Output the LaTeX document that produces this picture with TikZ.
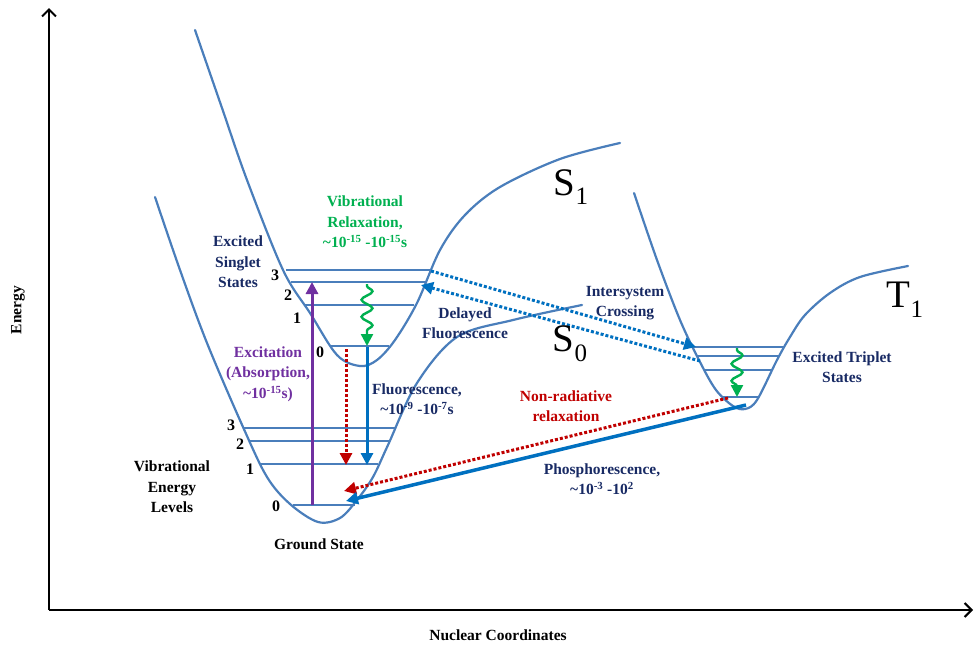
\documentclass[tikz,border=0pt]{standalone}
\usepackage{fontspec}
\setmainfont{Liberation Serif}
\usetikzlibrary{arrows.meta,decorations.pathmorphing}
\definecolor{curveblue}{RGB}{74,126,187}
\definecolor{navytext}{RGB}{24,42,100}
\definecolor{greenc}{RGB}{0,176,80}
\definecolor{purplec}{RGB}{112,48,160}
\definecolor{redc}{RGB}{192,0,0}
\definecolor{bluec}{RGB}{0,112,192}
\begin{document}
\begin{tikzpicture}[x=1pt,y=-1pt,
  curveline/.style={draw=curveblue, line width=2.2pt, line cap=round},
  levelline/.style={draw=curveblue, line width=1.4pt},
  lbl/.style={font=\fontsize{15.5}{20.5}\selectfont\bfseries, align=center, inner sep=0pt},
  numlbl/.style={font=\fontsize{16}{16}\selectfont\bfseries, inner sep=0pt},
  biglbl/.style={font=\fontsize{39}{39}\selectfont, inner sep=0pt},
  axisline/.style={draw=black, line width=2pt, -{Straight Barb[length=7pt,width=14pt,line width=2pt]}},
  tip/.style={-{Triangle[length=12pt,width=12pt]}},
  dotline/.style={line width=3pt, dash pattern=on 3pt off 2pt},
  wavy/.style={draw=greenc, line width=2.4pt, decorate,
    decoration={snake, amplitude=5.5pt, segment length=17pt, post length=9pt, pre length=2pt}}
]
\useasboundingbox (0,0) rectangle (974,648);

% axes
\coordinate (origin) at (49,610);
\coordinate (ytop) at (49,8);
\coordinate (xend) at (973,610);
\draw[axisline] (origin) -- (ytop);
\draw[axisline] (origin) -- (xend);
\node[lbl, rotate=90] (energy) at (18,310) {Energy};
\node[lbl] (nuc) at (498,635) {Nuclear Coordinates};

% potential curves
\draw[curveline] plot[smooth, tension=0.55] coordinates {
  (155,197) (180,270) (207,343) (243,427) (267,477) (290,504) (318,522)
  (340,518) (357,500) (373,477) (388,445) (417,383) (457,337) (513,320) (582,305)};
\draw[curveline] plot[smooth, tension=0.55] coordinates {
  (195,30) (222,108) (247,180) (283,270) (310,313) (337,355) (360,366)
  (377,360) (395,340) (417,303) (440,250) (465,215) (500,187) (560,159) (620,143)};
\draw[curveline] plot[smooth, tension=0.55] coordinates {
  (634,193) (657,260) (680,320) (700,362) (716,390) (733,406) (745,409)
  (757,400) (777,360) (790,337) (805,315) (830,293) (860,277) (908,266)};

% S1 vibrational levels
\coordinate (s1a3) at (286,270); \coordinate (s1b3) at (431,270);
\coordinate (s1a2) at (291,282); \coordinate (s1b2) at (426,282);
\coordinate (s1a1) at (304,305); \coordinate (s1b1) at (414,305);
\coordinate (s1a0) at (330,346); \coordinate (s1b0) at (389,346);
\foreach \i in {0,1,2,3} \draw[levelline] (s1a\i) -- (s1b\i);
% S0 vibrational levels
\coordinate (s0a3) at (244,428); \coordinate (s0b3) at (395,428);
\coordinate (s0a2) at (250,441); \coordinate (s0b2) at (389,441);
\coordinate (s0a1) at (261,464); \coordinate (s0b1) at (378,464);
\coordinate (s0a0) at (293,505); \coordinate (s0b0) at (355,505);
\foreach \i in {0,1,2,3} \draw[levelline] (s0a\i) -- (s0b\i);
% T1 vibrational levels
\coordinate (t1a3) at (694,347); \coordinate (t1b3) at (784,347);
\coordinate (t1a2) at (698,356); \coordinate (t1b2) at (780,356);
\coordinate (t1a1) at (705,370); \coordinate (t1b1) at (772,370);
\coordinate (t1a0) at (723,397); \coordinate (t1b0) at (758,397);
\foreach \i in {0,1,2,3} \draw[levelline] (t1a\i) -- (t1b\i);

% level numbers
\node[numlbl] (n13) at (275,275) {3};
\node[numlbl] (n12) at (288,295) {2};
\node[numlbl] (n11) at (297,318) {1};
\node[numlbl] (n10) at (320,352) {0};
\node[numlbl] (n03) at (231,425) {3};
\node[numlbl] (n02) at (240,444) {2};
\node[numlbl] (n01) at (250,469) {1};
\node[numlbl] (n00) at (276,506) {0};

% arrow end points
\coordinate (excA) at (312,505);
\coordinate (excB) at (312,282);
\coordinate (vrA) at (367,284);
\coordinate (vrB) at (367,346);
\coordinate (flA) at (367,347);
\coordinate (flB) at (367,465);
\coordinate (nrA) at (346,349);
\coordinate (nrB) at (346,465);
\coordinate (iscA) at (431,271);
\coordinate (iscB) at (696,347);
\coordinate (dfA) at (700,361);
\coordinate (dfB) at (421,285);
\coordinate (tnrA) at (728,398);
\coordinate (tnrB) at (344,491);
\coordinate (phA) at (746,405);
\coordinate (phB) at (346,501);
\coordinate (tvrA) at (737,348);
\coordinate (tvrB) at (737,397);

% transitions
\draw[purplec, line width=3pt, tip] (excA) -- (excB);
\draw[wavy, tip] (vrA) -- (vrB);
\draw[bluec, line width=3pt, tip] (flA) -- (flB);
\draw[redc, dotline, tip] (nrA) -- (nrB);
\draw[bluec, dotline, tip] (iscA) -- (iscB);
\draw[bluec, dotline, tip] (dfA) -- (dfB);
\draw[redc, dotline, tip] (tnrA) -- (tnrB);
\draw[bluec, line width=3.5pt, tip] (phA) -- (phB);
\draw[wavy, tip] (tvrA) -- (tvrB);

% labels
\node[lbl, text=navytext] (ess) at (238,262) {Excited\\Singlet\\States};
\node[lbl, text=greenc] (vr) at (365,222) {Vibrational\\Relaxation,\\\textasciitilde10\textsuperscript{-15} -10\textsuperscript{-15}s};
\node[lbl, text=purplec] (exc) at (268,374) {Excitation\\(Absorption,\\\textasciitilde10\textsuperscript{-15}s)};
\node[lbl, text=navytext] (fl) at (417,399) {Fluorescence,\\\textasciitilde10\textsuperscript{-9} -10\textsuperscript{-7}s};
\node[lbl, text=navytext] (df) at (465,323) {Delayed\\Fluorescence};
\node[lbl, text=navytext] (isc) at (625,303) {Intersystem\\Crossing};
\node[lbl, text=navytext] (ets) at (842,367) {Excited Triplet\\States};
\node[lbl, text=redc] (nr) at (566,406) {Non-radiative\\relaxation};
\node[lbl, text=navytext] (ph) at (602,479) {Phosphorescence,\\\textasciitilde10\textsuperscript{-3} -10\textsuperscript{2}};
\node[lbl] (vel) at (172,487) {Vibrational\\Energy\\Levels};
\node[lbl] (gs) at (319,544) {Ground State};

\node[biglbl] (S1) at (571,187) {S\raisebox{-0.25em}{\fontsize{25}{25}\selectfont 1}};
\node[biglbl] (S0) at (570,344) {S\raisebox{-0.25em}{\fontsize{25}{25}\selectfont 0}};
\node[biglbl] (T1) at (905,300) {T\raisebox{-0.25em}{\fontsize{25}{25}\selectfont 1}};
\end{tikzpicture}
\end{document}
